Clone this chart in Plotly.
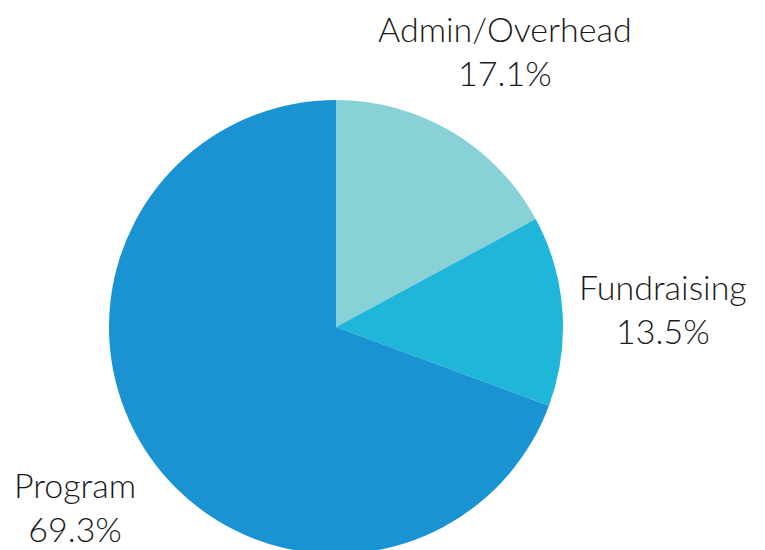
import plotly.graph_objects as go

categories = ["Admin/Overhead", "Fundraising", "Program"]
values = [17.1, 13.5, 69.3]
colors = ["#88D1D6", "#1FB6D9", "#1A93D3"]

W, H = 765, 560

fig = go.Figure(go.Pie(
    labels=categories,
    values=values,
    sort=False,
    direction="clockwise",
    rotation=0,
    marker=dict(colors=colors, line=dict(width=0)),
    textinfo="none",
    hoverinfo="label+percent",
    showlegend=False,
    domain=dict(x=[109 / W, 563 / W], y=[(H - 554) / H, (H - 100) / H]),
))

label_pos = [(505, 50), (663, 308), (75, 506)]
for cat, val, (px, py) in zip(categories, values, label_pos):
    fig.add_annotation(
        text=f"{cat}<br>{val:.1f}%",
        x=px / W, y=(H - py) / H, xref="paper", yref="paper",
        xanchor="center", yanchor="middle", showarrow=False,
        font=dict(family="Lato, Noto Sans, sans-serif", size=34, color="#1a1a1a", weight=300),
        align="center",
    )

fig.update_layout(
    width=W, height=H,
    margin=dict(l=0, r=0, t=0, b=0),
    paper_bgcolor="white", plot_bgcolor="white",
)

fig.write_html(
    "out.html",
    config={"displayModeBar": False},
    post_script="document.body.style.margin='0';document.body.style.overflow='hidden';document.documentElement.style.overflow='hidden';",
)
